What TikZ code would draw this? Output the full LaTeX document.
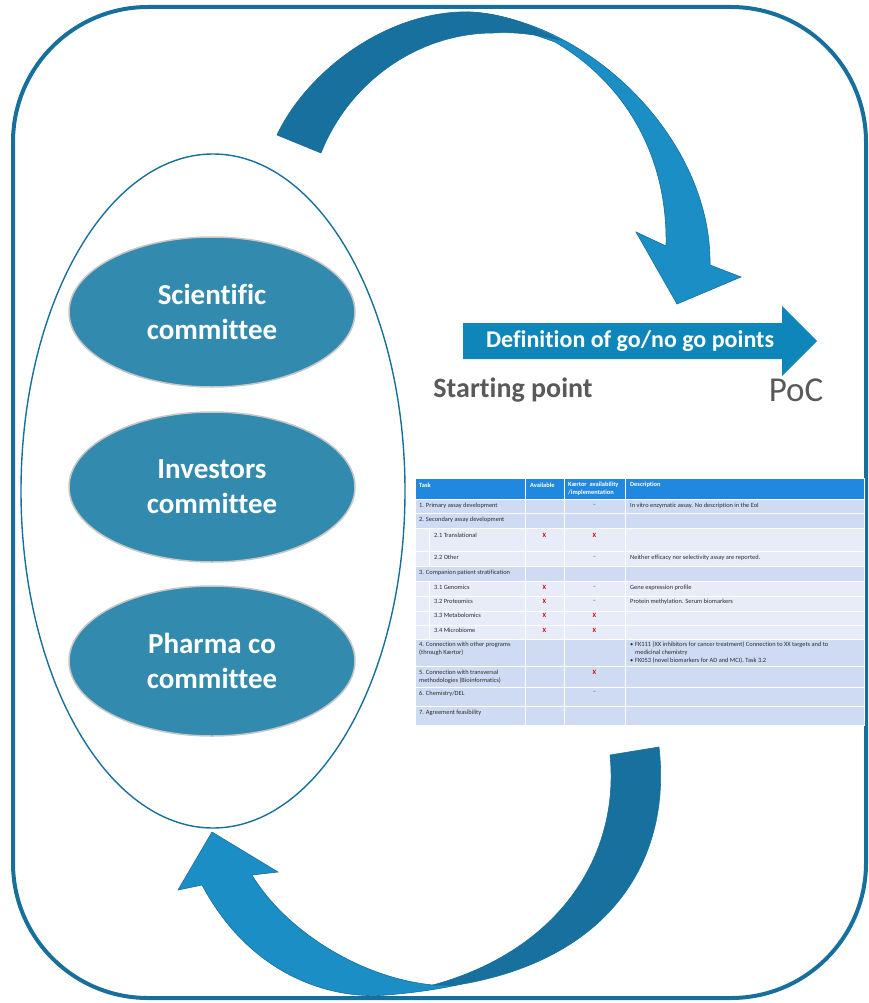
\documentclass[tikz,border=0pt]{standalone}
\usepackage{fontspec}
\setmainfont{Carlito}[Ligatures={TeX,NoCommon}]
\usepackage{tikz}
\usetikzlibrary{shapes.geometric}

\definecolor{framecol}{RGB}{23,111,155}
\definecolor{ellfill}{RGB}{50,138,174}
\definecolor{arrdark}{RGB}{23,112,158}
\definecolor{arrlight}{RGB}{28,142,198}
\definecolor{goblue}{RGB}{15,134,186}
\definecolor{labelgray}{RGB}{89,89,89}
\definecolor{hdrblue}{RGB}{33,136,224}
\definecolor{tblmid}{RGB}{207,219,243}
\definecolor{tbllight}{RGB}{231,236,248}
\definecolor{tbltext}{RGB}{45,45,45}
\definecolor{markred}{RGB}{204,0,0}
\definecolor{markgreen}{RGB}{0,176,80}

\newcommand{\tablefont}{\fontsize{6.4}{7.8}\selectfont}

\begin{document}
\begin{tikzpicture}[x=1pt, y=-1pt,
        committee/.style={ellipse, fill=ellfill, draw=gray!45, line width=1.5pt, text=white, align=center, font=\fontsize{29}{35}\selectfont\bfseries, minimum width=286pt, minimum height=150pt},
        arrowdark/.style={fill=arrdark, draw=framecol, line width=0.6pt},
        arrowlight/.style={fill=arrlight, draw=framecol, line width=0.6pt},
        hdr/.style={fill=hdrblue, draw=white, line width=1pt},
        rowa/.style={fill=tblmid, draw=white, line width=1pt},
        rowb/.style={fill=tbllight, draw=white, line width=1pt},
        cell/.style={font=\tablefont, text=tbltext, inner sep=0pt, anchor=west, align=left},
        head/.style={cell, text=white, font=\tablefont\bfseries},
        xmark/.style={font=\tablefont\bfseries, text=markred, inner sep=0pt},
        dmark/.style={font=\tablefont\bfseries, text=markgreen, inner sep=0pt}]
        \useasboundingbox (0,0) rectangle (869,1003);
        % Outer frame
        \draw[framecol, line width=4pt, rounded corners=135pt] (13,7) rectangle (866,998);
        % Committees
        \node[ellipse, draw=framecol, line width=1.4pt, minimum width=384pt, minimum height=674pt] (pool) at (213,491) {};
        \node[committee] (c1) at (212,312) {Scientific\\committee};
        \node[committee] (c2) at (212,487) {Investors\\committee};
        \node[committee] (c3) at (212,661) {Pharma co\\committee};
        % Curved arrows
        \filldraw[arrowlight] (470,12) .. controls (590,20) and (712,140) .. (710,265) -- (741,277) -- (677,304) -- (636,232) -- (666,246) .. controls (668,150) and (620,80) .. (555,42) -- cycle;
        \filldraw[arrowdark] (277,135) .. controls (305,75) and (380,15) .. (460,12) .. controls (500,11) and (530,25) .. (560,40) .. controls (530,33) and (510,32) .. (493,33) .. controls (420,33) and (350,80) .. (321,153) -- cycle;
        \filldraw[arrowlight] (202,885) .. controls (250,975) and (330,1000) .. (387,995) .. controls (410,993) and (435,990) .. (457,985) -- (433,985) .. controls (360,978) and (285,930) .. (252,875) -- (278,872) -- (212,832) -- (178,890) -- cycle;
        \filldraw[arrowdark] (659,747) .. controls (672,860) and (610,960) .. (457,985) -- (433,985) .. controls (560,950) and (620,855) .. (610,755) -- cycle;
        % Go/no go arrow
        \fill[goblue] (463,323) -- (782,323) -- (782,306) -- (817,341) -- (782,376) -- (782,359) -- (463,359) -- cycle;
        \node[text=white, font=\fontsize{24}{28}\selectfont\bfseries] (gonogo) at (630,341) {Definition of go/no go points};
        \node[text=labelgray, font=\fontsize{28}{32}\selectfont\bfseries] (start) at (513,390) {Starting point};
        \node[text=labelgray, font=\fontsize{35}{40}\selectfont] (poc) at (796,390) {PoC};
        % Table rows
        \draw[hdr] (415,478) rectangle (864,499);
        \draw[rowa] (415,499) rectangle (864,513);
        \draw[rowa] (415,513) rectangle (864,528);
        \draw[rowb] (415,528) rectangle (864,551);
        \draw[rowb] (415,551) rectangle (864,566);
        \draw[rowa] (415,566) rectangle (864,581);
        \draw[rowb] (415,581) rectangle (864,596);
        \draw[rowb] (415,596) rectangle (864,611);
        \draw[rowb] (415,611) rectangle (864,625);
        \draw[rowb] (415,625) rectangle (864,639);
        \draw[rowa] (415,639) rectangle (864,666);
        \draw[rowa] (415,666) rectangle (864,687);
        \draw[rowa] (415,687) rectangle (864,706);
        \draw[rowa] (415,706) rectangle (864,725);
        \draw[white, line width=1pt] (525,478) -- (525,725);
        \draw[white, line width=1pt] (564,478) -- (564,725);
        \draw[white, line width=1pt] (625,478) -- (625,725);
        \draw[white, line width=1pt] (429,528) -- (429,566);
        \draw[white, line width=1pt] (429,581) -- (429,639);
        % Table header
        \node[head] (task) at (419,485) {Task};
        \node[head] (avail) at (530,485) {Available};
        \node[head] (kaer) at (568,488.7) {Kærtor\ \ availability\\/implementation};
        \node[head] (descr) at (630,485) {Description};
        % Table body
        \node[cell] (r1) at (419,505.7) {1. Primary assay development};
        \node[dmark] (r1k) at (594.5,505) {\textendash};
        \node[cell] (r1d) at (630,505.7) {In vitro enzymatic assay. No description in the EoI};
        \node[cell] (r2) at (419,520) {2. Secondary assay development};
        \node[cell] (r21) at (434,535) {2.1 Translational};
        \node[xmark] (r21a) at (544.5,535) {X};
        \node[xmark] (r21k) at (594.5,535) {X};
        \node[cell] (r22) at (434,557.7) {2.2 Other};
        \node[dmark] (r22k) at (594.5,557) {\textendash};
        \node[cell] (r22d) at (630,557.7) {Neither efficacy nor selectivity assay are reported.};
        \node[cell] (r3) at (419,573.3) {3. Companion patient stratification};
        \node[cell] (r31) at (434,587.7) {3.1 Genomics};
        \node[xmark] (r31a) at (544.5,587.7) {X};
        \node[dmark] (r31k) at (594.5,587) {\textendash};
        \node[cell] (r31d) at (630,587.7) {Gene expression profile};
        \node[cell] (r32) at (434,601.7) {3.2 Proteomics};
        \node[xmark] (r32a) at (544.5,601.7) {X};
        \node[dmark] (r32k) at (594.5,601) {\textendash};
        \node[cell] (r32d) at (630,601.7) {Protein methylation. Serum biomarkers};
        \node[cell] (r33) at (434,615) {3.3 Metabolomics};
        \node[xmark] (r33a) at (544.5,615) {X};
        \node[xmark] (r33k) at (594.5,615) {X};
        \node[cell] (r34) at (434,630) {3.4 Microbiome};
        \node[xmark] (r34a) at (544.5,630) {X};
        \node[xmark] (r34k) at (594.5,630) {X};
        \node[cell] (r4) at (419,648.9) {4. Connection with other programs\\(through Kærtor)};
        \node[cell] (r4d) at (630,652.8) {\makebox[5pt][l]{\textbullet}FK111 (XX inhibitors for cancer treatment) Connection to XX targets and to\\\hspace*{5pt}medicinal chemistry\\\makebox[5pt][l]{\textbullet}FK053 (novel biomarkers for AD and MCI). Task 3.2};
        \node[cell] (r5) at (419,676.7) {5. Connection with transversal\\methodologies (Bioinformatics)};
        \node[xmark] (r5k) at (594.5,672.7) {X};
        \node[cell] (r6) at (419,694) {6. Chemistry/DEL};
        \node[dmark] (r6k) at (594.5,692) {\textendash};
        \node[cell] (r7) at (419,712.7) {7. Agreement feasibility};
    \end{tikzpicture}
\end{document}
